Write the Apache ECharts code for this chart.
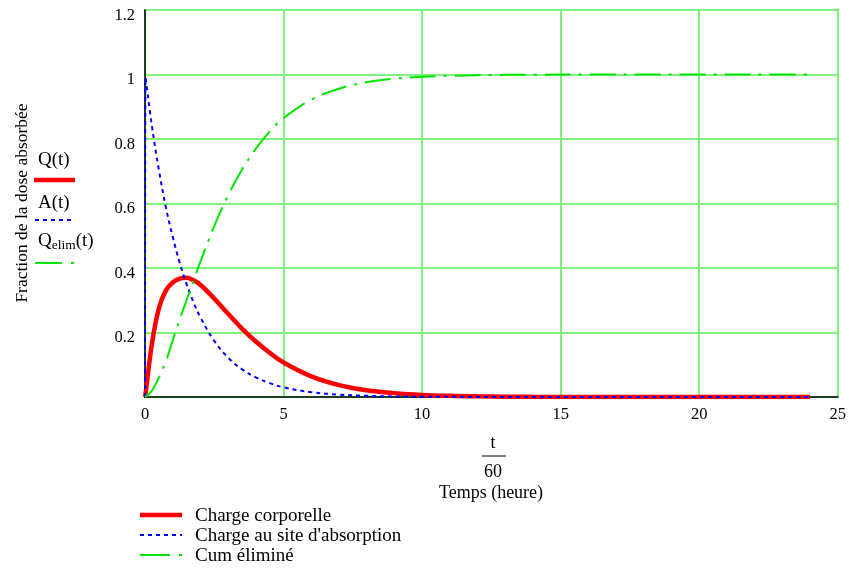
<!DOCTYPE html>
<html>
<head>
<meta charset="utf-8">
<script src="https://cdn.jsdelivr.net/npm/echarts@6/dist/echarts.min.js"></script>
<style>
  html, body { margin: 0; padding: 0; background: #fff; }
  #chart { width: 849px; height: 569px; }
</style>
</head>
<body>
<div id="chart"></div>
<script>
// temps (heure) et fractions
const times = [0, 0.02, 0.25, 0.5, 0.75, 1, 1.25, 1.5, 1.75, 2, 2.5, 3, 3.5, 4, 4.5, 5, 6, 7, 8, 9, 10, 11, 12, 14, 16, 18, 20, 22, 24]
const chargeCorp = [0, 0.01, 0.165, 0.275, 0.33, 0.355, 0.367, 0.37, 0.362, 0.348, 0.305, 0.258, 0.212, 0.172, 0.137, 0.107, 0.064, 0.037, 0.021, 0.012, 0.0065, 0.0035, 0.002, 0.0006, 0.0002, 0.0001, 0, 0, 0]
const chargeSite = [0, 0.99, 0.84, 0.705, 0.59, 0.497, 0.417, 0.35, 0.294, 0.247, 0.174, 0.122, 0.086, 0.061, 0.043, 0.03, 0.015, 0.0075, 0.0037, 0.0018, 0.0009, 0.0005, 0.0002, 0.0001, 0, 0, 0, 0, 0]
const cumElim = [0, 0, 0.02, 0.06, 0.11, 0.175, 0.24, 0.3, 0.36, 0.42, 0.53, 0.625, 0.705, 0.77, 0.823, 0.865, 0.922, 0.956, 0.976, 0.987, 0.993, 0.996, 0.998, 0.9994, 0.9998, 1, 1, 1, 1]
const xTicks = [0, 5, 10, 15, 20, 25]
const yTicks = [0, 0.2, 0.4, 0.6, 0.8, 1, 1.2]
const seriesNames = ['Charge corporelle', "Charge au site d'absorption", 'Cum éliminé']

const pairs = (ys) => times.map((t, i) => [t, ys[i]])
const serif = 'Liberation Serif, Times New Roman, serif'

const RED = '#ff0000'
const BLUE = '#0000ff'
const GREEN = '#00e600'
const GRID = '#80f080'
const blueDash = [4, 4]
const greenDash = [26, 8, 3, 8]

// légende du bas, faite à la main
const legendRows = [
    { y: 515, stroke: RED, width: 4.5, dash: null },
    { y: 535, stroke: BLUE, width: 2, dash: blueDash },
    { y: 555, stroke: GREEN, width: 2, dash: [30, 9, 3, 9] }
]
const legendGraphics = []
legendRows.forEach((r, i) => {
    legendGraphics.push({ type: 'line', shape: { x1: 140, y1: r.y, x2: 182, y2: r.y },
        style: { stroke: r.stroke, lineWidth: r.width, lineDash: r.dash } })
    legendGraphics.push({ type: 'text', x: 195, y: r.y + 1,
        style: { text: seriesNames[i], font: '19px ' + serif, fill: '#000', verticalAlign: 'middle' } })
})

const chart = echarts.init(document.getElementById('chart'))
chart.setOption({
    animation: false,
    textStyle: { fontFamily: serif },
    grid: {
        left: 145,
        right: 11,
        top: 10,
        bottom: 172,
        show: true,
        borderColor: '#000',
        borderWidth: 1.5
    },
    xAxis: {
        type: 'value',
        min: xTicks[0],
        max: xTicks[xTicks.length - 1],
        interval: 5,
        axisLine: { lineStyle: { color: '#000', width: 1.5 } },
        axisTick: { show: false },
        axisLabel: { color: '#000', fontSize: 16.5, fontFamily: serif, margin: 9 },
        splitLine: { lineStyle: { color: GRID, width: 2 } }
    },
    yAxis: {
        type: 'value',
        min: yTicks[0],
        max: yTicks[yTicks.length - 1],
        interval: 0.2,
        axisLine: { show: true, lineStyle: { color: '#000', width: 1.5 } },
        axisTick: { show: false },
        axisLabel: {
            color: '#000', fontSize: 16.5, fontFamily: serif, margin: 10,
            verticalAlign: 'top',
            lineHeight: 11,
            formatter: v => v === 0 ? '' : String(Math.round(v * 10) / 10)
        },
        splitLine: { lineStyle: { color: GRID, width: 2 } }
    },
    series: [
        {
            name: seriesNames[0],
            type: 'line',
            data: pairs(chargeCorp),
            showSymbol: false,
            symbol: 'none',
            smooth: 0.4,
            lineStyle: { color: RED, width: 4.5 },
            itemStyle: { color: RED }
        },
        {
            name: seriesNames[1],
            type: 'line',
            data: pairs(chargeSite),
            showSymbol: false,
            symbol: 'none',
            smooth: 0.4,
            lineStyle: { color: BLUE, width: 2, type: blueDash },
            itemStyle: { color: BLUE }
        },
        {
            name: seriesNames[2],
            type: 'line',
            data: pairs(cumElim),
            showSymbol: false,
            symbol: 'none',
            smooth: 0.4,
            lineStyle: { color: GREEN, width: 2, type: greenDash },
            itemStyle: { color: GREEN }
        }
    ],
    graphic: [
        // titre vertical
        { type: 'text', x: 22, y: 203, rotation: Math.PI / 2,
          style: { text: 'Fraction de la dose absorbée', font: '17.5px ' + serif, fill: '#000', align: 'center', verticalAlign: 'middle' } },
        // étiquettes de traces à gauche
        { type: 'text', x: 38, y: 160, style: { text: 'Q(t)', font: '19px ' + serif, fill: '#000', verticalAlign: 'middle' } },
        { type: 'line', shape: { x1: 34, y1: 180, x2: 75, y2: 180 }, style: { stroke: RED, lineWidth: 4.5 } },
        { type: 'text', x: 38, y: 203, style: { text: 'A(t)', font: '19px ' + serif, fill: '#000', verticalAlign: 'middle' } },
        { type: 'line', shape: { x1: 35, y1: 220, x2: 74, y2: 220 }, style: { stroke: BLUE, lineWidth: 2, lineDash: blueDash } },
        { type: 'text', x: 38, y: 241,
          style: { text: '{a|Q}{b|elim}{a|(t)}', fill: '#000', verticalAlign: 'middle',
                   rich: { a: { font: '19px ' + serif }, b: { font: '13.5px ' + serif, padding: [8, 0, 0, 0] } } } },
        { type: 'line', shape: { x1: 35, y1: 263, x2: 74, y2: 263 }, style: { stroke: GREEN, lineWidth: 2, lineDash: [27, 9, 3, 9] } },
        // nom de l'axe x : t / 60
        { type: 'text', x: 493, y: 443, style: { text: 't', font: '18px ' + serif, fill: '#000', align: 'center', verticalAlign: 'middle' } },
        { type: 'line', shape: { x1: 482, y1: 456, x2: 506, y2: 456 }, style: { stroke: '#000', lineWidth: 1 } },
        { type: 'text', x: 493, y: 472, style: { text: '60', font: '18px ' + serif, fill: '#000', align: 'center', verticalAlign: 'middle' } },
        { type: 'text', x: 491, y: 493, style: { text: 'Temps (heure)', font: '18px ' + serif, fill: '#000', align: 'center', verticalAlign: 'middle' } }
    ].concat(legendGraphics)
})
</script>
</body>
</html>
